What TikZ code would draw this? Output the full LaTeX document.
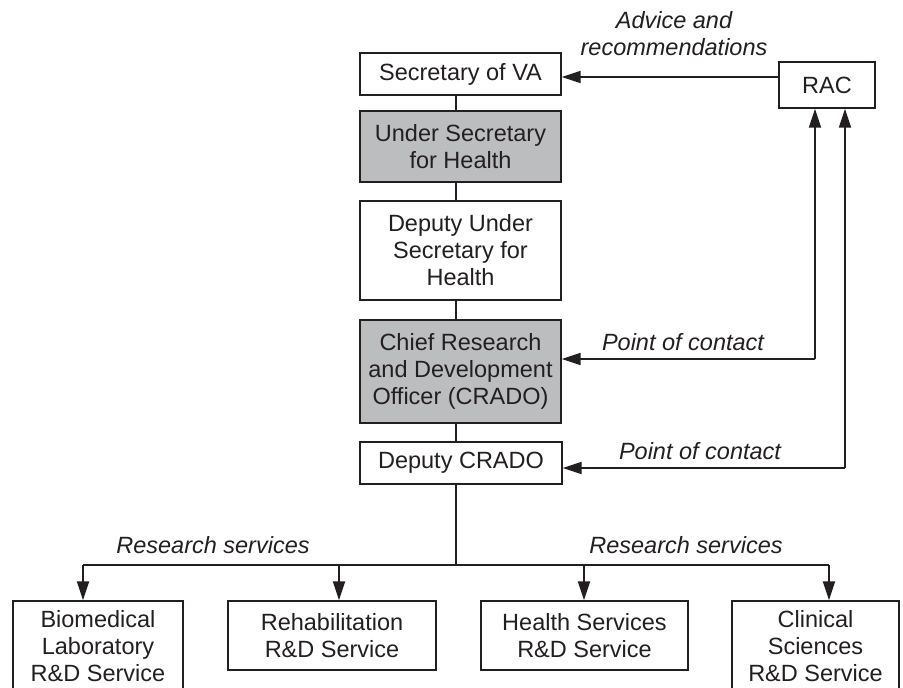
\documentclass[tikz,border=0pt]{standalone}
\usepackage{fontspec}
\setmainfont{Liberation Sans}
\usetikzlibrary{arrows.meta}
\definecolor{ink}{RGB}{35,31,32}
\definecolor{boxgray}{RGB}{188,189,191}
\tikzset{
  orgbox/.style={draw=ink, line width=1.3pt, fill=white, inner sep=0pt, align=center,
    font=\fontsize{23.5}{27}\selectfont, text=ink},
  graybox/.style={orgbox, fill=boxgray},
  conn/.style={draw=ink, line width=2pt},
  arr/.style={conn, -{Triangle[length=19pt,width=12pt]}},
  lbl/.style={font=\fontsize{23.5}{27}\selectfont\itshape, text=ink, align=center, inner sep=0pt}
}
\begin{document}
\begin{tikzpicture}[x=1pt,y=-1pt]
\clip (0,0) rectangle (903,688);
\fill[white] (0,0) rectangle (903,688);

% main column
\node[orgbox, minimum width=201pt, minimum height=42pt] (sec) at (460.5,74) {Secretary of VA};
\node[graybox, minimum width=201pt, minimum height=71pt] (us) at (460.5,146.5) {Under Secretary\\for Health};
\node[orgbox, minimum width=201pt, minimum height=99pt] (dus) at (460.5,250.5) {Deputy Under\\Secretary for\\Health};
\node[graybox, minimum width=201pt, minimum height=103pt] (crado) at (460.5,371.5) {Chief Research\\and Development\\Officer (CRADO)};
\node[orgbox, minimum width=202pt, minimum height=42pt] (dcrado) at (461,463) {Deputy CRADO};
\node[orgbox, minimum width=96pt, minimum height=46pt] (rac) at (827,85) {RAC};

% services
\node[orgbox, minimum width=170pt, minimum height=91pt] (bio) at (98,646.5) {Biomedical\\Laboratory\\R\&D Service};
\node[orgbox, minimum width=208pt, minimum height=69pt] (rehab) at (332,635.5) {Rehabilitation\\R\&D Service};
\node[orgbox, minimum width=207pt, minimum height=69pt] (health) at (584.5,635.5) {Health Services\\R\&D Service};
\node[orgbox, minimum width=167pt, minimum height=91pt] (clin) at (815.5,646.5) {Clinical\\Sciences\\R\&D Service};

% spine
\coordinate (spine) at (456,0);
\draw[conn] (sec.south -| spine) -- (us.north -| spine);
\draw[conn] (us.south -| spine) -- (dus.north -| spine);
\draw[conn] (dus.south -| spine) -- (crado.north -| spine);
\draw[conn] (crado.south -| spine) -- (dcrado.north -| spine);

% research services bar
\coordinate (bar) at (456,565);
\coordinate (bl) at (83,565);
\coordinate (br) at (829,565);
\draw[conn] (dcrado.south -| spine) -- (bar);
\draw[conn] (bl) -- (br);
\draw[arr] (bl) -- (bio.north -| bl);
\draw[arr] (339,565) -- (rehab.north -| 339,0);
\draw[arr] (584,565) -- (health.north -| 584,0);
\draw[arr] (br) -- (clin.north -| br);

% RAC links
\draw[arr] (rac.west |- 0,77) -- (sec.east |- 0,77);
\coordinate (p1) at (815,359);
\coordinate (p2) at (845,468);
\draw[arr] (p1) -- (crado.east |- p1);
\draw[arr] (p1) -- (rac.south -| p1);
\draw[arr] (p2) -- (dcrado.east |- p2);
\draw[arr] (p2) -- (rac.south -| p2);

% labels
\node[lbl] (advice) at (674,34) {Advice and\\recommendations};
\node[lbl] (poc1) at (683,342) {Point of contact};
\node[lbl] (poc2) at (700,451) {Point of contact};
\node[lbl] (rs1) at (213,545) {Research services};
\node[lbl] (rs2) at (686,545) {Research services};
\end{tikzpicture}
\end{document}
